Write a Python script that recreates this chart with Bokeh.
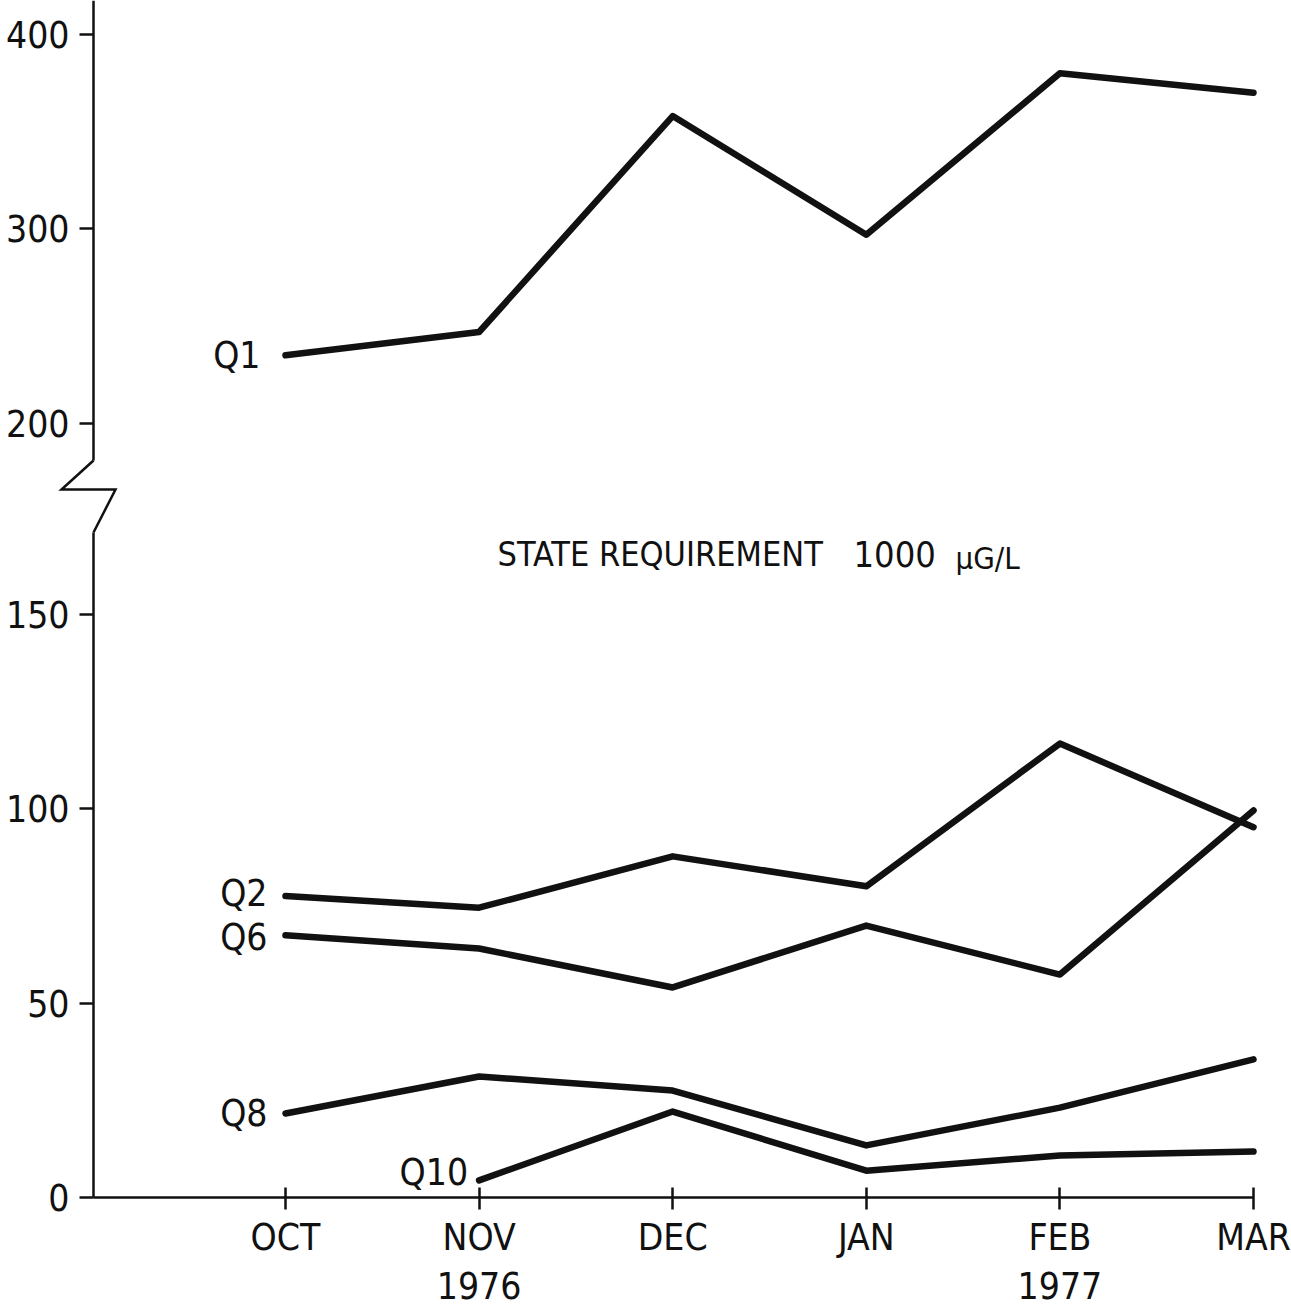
from bokeh.plotting import figure
from bokeh.models import (LinearAxis, FixedTicker, Range1d, ColumnDataSource)
from bokeh.core.properties import value
from bokeh.embed import file_html
from bokeh.resources import INLINE

# ---- data -------------------------------------------------------------
months = ["OCT", "NOV", "DEC", "JAN", "FEB", "MAR"]
year_labels = ["1976", "1977"]
year_months = ["NOV", "FEB"]

q1 = [235, 247, 358, 297, 380, 370]
q2 = [77.5, 74.5, 87.7, 80.0, 116.7, 95.2]
q6 = [67.4, 64.0, 54.0, 69.9, 57.3, 99.5]
q8 = [21.6, 31.1, 27.5, 13.4, 23.1, 35.5]
q10_months = ["NOV", "DEC", "JAN", "FEB", "MAR"]
q10 = [4.4, 22.1, 6.9, 10.8, 11.8]

lower_ticks = [0, 50, 100, 150]
upper_ticks = [200, 300, 400]

note_words = "STATE REQUIREMENT"
note_amount = "1000"
note_unit = "\u03bcG/L"

# ---- broken y scale: values above the break are compressed by half ----
BREAK = 200
BREAK_POS = 199.0
UPPER_SCALE = 0.5


def to_plot(v):
    return v if v < BREAK else BREAK_POS + (v - BREAK) * UPPER_SCALE


def mx(m):
    return months.index(m)


FONT = "'Liberation Sans Narrow', 'DejaVu Sans Condensed', 'Liberation Sans', sans-serif"
FS = "37px"
INK = "#111111"

W, H = 1291, 1311
PX_PER_X = 193.6
PX_PER_Y = 3.89
X0_PX, Y0_PX = 285.0, 1197.0

x_range = Range1d(-X0_PX / PX_PER_X, (W - X0_PX) / PX_PER_X)
y_range = Range1d((Y0_PX - H) / PX_PER_Y, Y0_PX / PX_PER_Y)
AXIS_X = (93 - X0_PX) / PX_PER_X


def px_x(px):
    return (px - X0_PX) / PX_PER_X


def px_y(py):
    return (Y0_PX - py) / PX_PER_Y


p = figure(width=W, height=H, x_range=x_range, y_range=y_range,
           x_axis_type=None, y_axis_type=None, toolbar_location=None,
           output_backend="svg", min_border=0)
p.outline_line_color = None
p.background_fill_color = "white"
p.border_fill_color = "white"

# ---- axes ---------------------------------------------------------------
def y_axis(ticks, bounds):
    ax = LinearAxis(ticker=FixedTicker(ticks=[to_plot(t) for t in ticks]),
                    fixed_location=AXIS_X, bounds=bounds)
    ax.major_label_overrides = {to_plot(t): str(t) for t in ticks}
    ax.major_tick_in = 0
    ax.major_tick_out = 14
    ax.minor_tick_line_color = None
    ax.major_tick_line_width = 2.5
    ax.axis_line_width = 2.5
    ax.axis_line_color = INK
    ax.major_tick_line_color = INK
    ax.major_label_standoff = 10
    ax.major_label_text_font = FONT
    ax.major_label_text_font_size = FS
    ax.major_label_text_color = INK
    return ax

low_top = px_y(532)
up_bot = px_y(460)
p.add_layout(y_axis(lower_ticks, (0, low_top)), "left")
p.add_layout(y_axis(upper_ticks, (up_bot, y_range.end)), "left")

xa = LinearAxis(ticker=FixedTicker(ticks=list(range(len(months)))),
                fixed_location=0, bounds=(AXIS_X, len(months) - 1))
xa.major_label_overrides = {i: m for i, m in enumerate(months)}
xa.major_tick_in = 10
xa.major_tick_out = 12
xa.minor_tick_line_color = None
xa.major_tick_line_width = 2.5
xa.axis_line_width = 2.5
xa.axis_line_color = INK
xa.major_tick_line_color = INK
xa.major_label_standoff = 6
xa.major_label_text_font = FONT
xa.major_label_text_font_size = FS
xa.major_label_text_color = INK
p.add_layout(xa, "below")

ya = LinearAxis(ticker=FixedTicker(ticks=[mx(m) for m in year_months]),
                fixed_location=0)
ya.major_label_overrides = {mx(m): y for m, y in zip(year_months, year_labels)}
ya.axis_line_color = None
ya.major_tick_line_color = None
ya.minor_tick_line_color = None
ya.major_label_standoff = 68
ya.major_label_text_font = FONT
ya.major_label_text_font_size = FS
ya.major_label_text_color = INK
p.add_layout(ya, "below")

# zig-zag marking the break in the value axis
zz_x = [AXIS_X, px_x(115), px_x(61), AXIS_X]
zz_y = [low_top, px_y(489), px_y(489), up_bot]
p.line(zz_x, zz_y, line_color=INK, line_width=2.5, line_join="miter")

# ---- series ---------------------------------------------------------------
series = [("Q1", months, q1), ("Q2", months, q2), ("Q6", months, q6),
          ("Q8", months, q8), ("Q10", q10_months, q10)]

for name, ms, vals in series:
    p.line([mx(m) for m in ms], [to_plot(v) for v in vals],
           line_color=INK, line_width=6.5, line_join="round", line_cap="round")

label_dx = {"Q1": -25, "Q2": -18, "Q6": -18, "Q8": -18, "Q10": -11}
label_dy = {"Q1": 0, "Q2": -3, "Q6": 2, "Q8": 0, "Q10": -8}
lab = ColumnDataSource(dict(
    x=[mx(ms[0]) for _, ms, _ in series],
    y=[to_plot(v[0]) for _, _, v in series],
    t=[n for n, _, _ in series],
    dx=[label_dx[n] for n, _, _ in series],
    dy=[label_dy[n] for n, _, _ in series],
))
p.text(x="x", y="y", text="t", x_offset="dx", y_offset="dy", source=lab,
       text_align="right", text_baseline="middle", text_color=INK,
       text_font=value(FONT), text_font_size=FS)

# state requirement note
note_y = px_y(553)
p.text(x=[px_x(497)], y=[note_y], text=[note_words],
       text_align="left", text_baseline="middle", text_color=INK,
       text_font=value(FONT), text_font_size="34px")
p.text(x=[px_x(853)], y=[note_y], text=[note_amount],
       text_align="left", text_baseline="middle", text_color=INK,
       text_font=value(FONT), text_font_size="36px")
p.text(x=[px_x(955)], y=[note_y], text=[note_unit],
       y_offset=[4], text_align="left", text_baseline="middle", text_color=INK,
       text_font=value(FONT), text_font_size="31px")

open("out.html", "w").write(file_html(p, INLINE))
